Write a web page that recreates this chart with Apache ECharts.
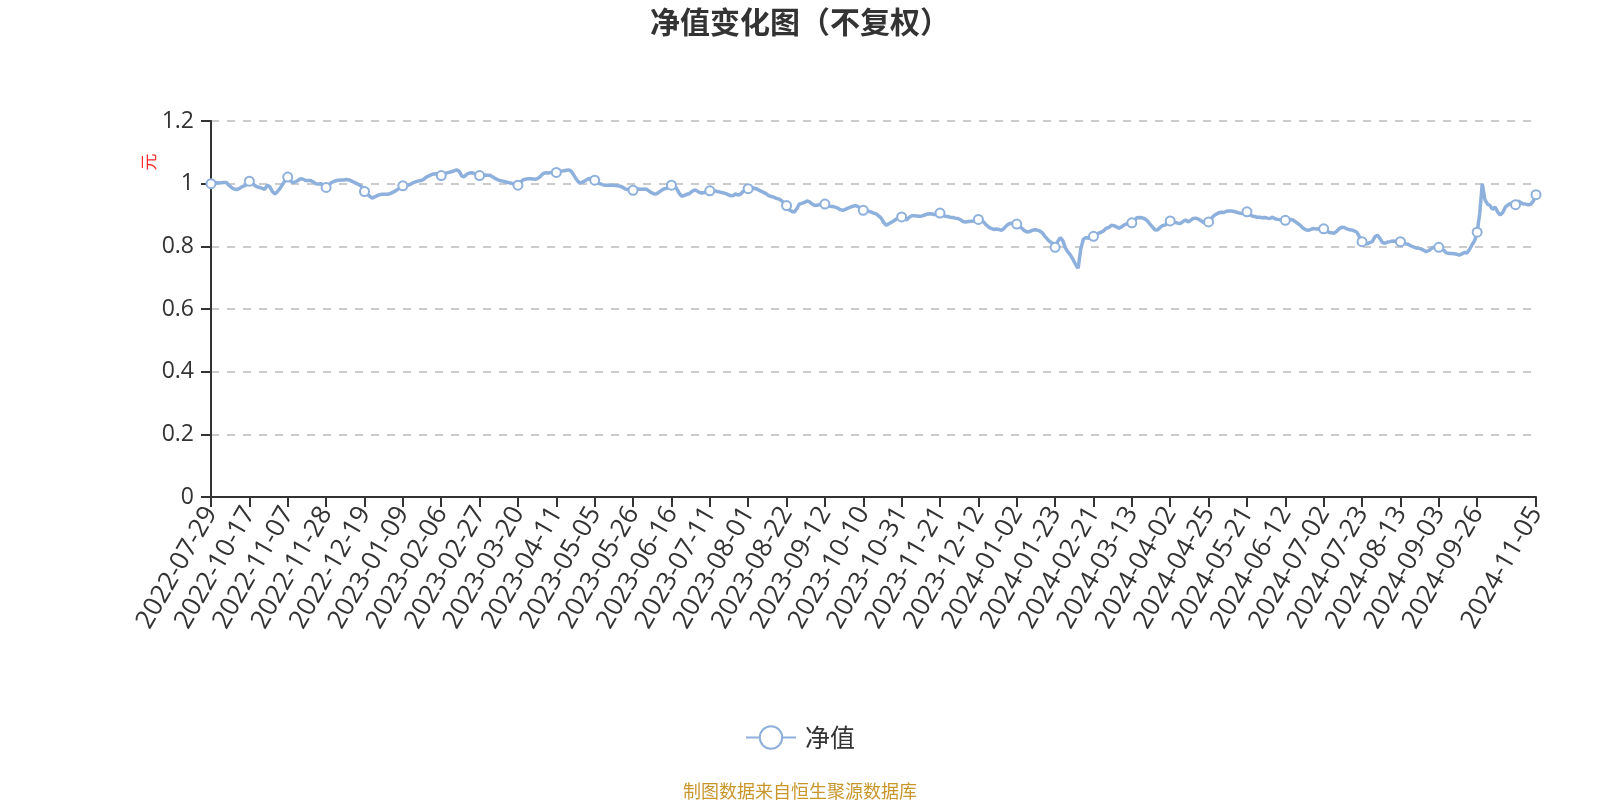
<!DOCTYPE html>
<html>
<head>
<meta charset="utf-8">
<script src="https://cdn.jsdelivr.net/npm/echarts@6/dist/echarts.min.js"></script>
<style>
html,body{margin:0;padding:0;background:#ffffff;}
#chart{width:1600px;height:800px;}
</style>
</head>
<body>
<div id="chart"></div>
<script>
// ---------- texts ----------
const chartTitle = '净值变化图（不复权）';
const seriesName = '净值';
const yAxisName = '元';
const sourceNote = '制图数据来自恒生聚源数据库';

// ---------- y axis ticks ----------
const yTickValues = [0, 0.2, 0.4, 0.6, 0.8, 1, 1.2];

// ---------- NAV dates (month -> days with a published NAV) ----------
const navDays = [
  ['2022-07', '29'],
  ['2022-09', '20 21 22 23 26 27 28 29 30'],
  ['2022-10', '10 11 12 13 14 17 18 19 20 21 24 25 26 27 28 31'],
  ['2022-11', '1 2 3 4 7 8 9 10 11 14 15 16 17 18 21 22 23 24 25 28 29 30'],
  ['2022-12', '1 2 5 6 7 8 9 12 13 14 15 16 19 20 21 22 23 26 27 28 29 30 31'],
  ['2023-01', '3 4 5 6 9 10 11 12 13 16 17 18 19 20 30 31'],
  ['2023-02', '1 2 3 6 7 8 9 10 13 14 15 16 17 20 21 22 23 24 27 28'],
  ['2023-03', '1 2 3 6 7 8 9 10 13 14 15 16 17 20 21 22 23 24 27 28 29 30 31'],
  ['2023-04', '3 4 6 7 10 11 12 13 14 17 18 19 20 21 24 25 26 27 28'],
  ['2023-05', '4 5 8 9 10 11 12 15 16 17 18 19 22 23 24 25 26 29 30 31'],
  ['2023-06', '1 2 5 6 7 8 9 12 13 14 15 16 19 20 21 26 27 28 29 30'],
  ['2023-07', '3 4 5 6 7 10 11 12 13 14 17 18 19 20 21 24 25 26 27 28 31'],
  ['2023-08', '1 2 3 4 7 8 9 10 11 14 15 16 17 18 21 22 23 24 25 28 29 30 31'],
  ['2023-09', '1 4 5 6 7 8 11 12 13 14 15 18 19 20 21 22 25 26 27 28 30'],
  ['2023-10', '9 10 11 12 13 16 17 18 19 20 23 24 25 26 27 30 31'],
  ['2023-11', '1 2 3 6 7 8 9 10 13 14 15 16 17 20 21 22 23 24 27 28 29 30'],
  ['2023-12', '1 4 5 6 7 8 11 12 13 14 15 18 19 20 21 22 25 26 27 28 29 31'],
  ['2024-01', '2 3 4 5 8 9 10 11 12 15 16 17 18 19 22 23 24 25 26 29 30 31'],
  ['2024-02', '1 2 5 6 7 8 19 20 21 22 23 26 27 28 29'],
  ['2024-03', '1 4 5 6 7 8 11 12 13 14 15 18 19 20 21 22 25 26 27 28 29 31'],
  ['2024-04', '1 2 3 8 9 10 11 12 15 16 17 18 19 22 23 24 25 26 29 30'],
  ['2024-05', '6 7 8 9 10 13 14 15 16 17 20 21 22 23 24 27 28 29 30 31'],
  ['2024-06', '3 4 5 6 7 11 12 13 14 17 18 19 20 21 24 25 26 27 28 30'],
  ['2024-07', '1 2 3 4 5 8 9 10 11 12 15 16 17 18 19 22 23 24 25 26 29 30 31'],
  ['2024-08', '1 2 5 6 7 8 9 12 13 14 15 16 19 20 21 22 23 26 27 28 29 30'],
  ['2024-09', '2 3 4 5 6 9 10 11 12 13 18 19 20 23 24 25 26 27 30'],
  ['2024-10', '8 9 10 11 14 15 16 17 18 21 22 23 24 25 28 29 30 31'],
  ['2024-11', '1 4 5']
];

// ---------- NAV values (元), one per date above ----------
const navValues = [
  1.000,1.002,1.003,1.002,1.003,1.004,1.004,0.995,0.988,0.983,0.981,0.984,0.990,0.993,0.997,1.008,
  1.004,0.995,0.990,0.988,0.985,0.982,0.995,0.990,0.975,0.967,0.975,0.985,0.998,1.010,1.021,
  1.010,1.003,1.006,1.010,1.016,1.014,1.010,1.010,1.010,1.005,1.000,0.999,1.000,0.995,0.988,
  0.995,1.003,1.007,1.010,1.011,1.012,1.012,1.013,1.012,1.008,1.004,1.000,0.996,0.990,0.975,
  0.968,0.960,0.954,0.958,0.962,0.965,0.966,0.966,0.966,0.968,0.972,0.976,0.982,0.988,0.993,
  0.993,0.995,0.998,1.003,1.006,1.008,1.010,1.013,1.020,1.024,1.028,1.031,1.032,1.028,1.026,
  1.030,1.034,1.036,1.038,1.041,1.044,1.040,1.025,1.022,1.030,1.034,1.035,1.032,1.028,1.026,
  1.027,1.028,1.027,1.027,1.022,1.017,1.013,1.010,1.008,1.006,1.004,1.002,1.000,0.998,0.995,
  1.005,1.012,1.014,1.016,1.016,1.015,1.014,1.018,1.025,1.033,1.035,1.034,1.036,1.035,1.036,
  1.038,1.040,1.041,1.043,1.044,1.038,1.025,1.012,1.003,1.004,1.008,1.013,1.017,1.014,1.011,
  1.005,1.000,0.997,0.995,0.995,0.996,0.995,0.994,0.993,0.992,0.988,0.983,0.981,0.980,0.979,
  0.982,0.983,0.982,0.982,0.983,0.978,0.972,0.968,0.967,0.972,0.978,0.983,0.985,0.988,0.995,
  0.995,0.985,0.970,0.960,0.962,0.966,0.968,0.975,0.980,0.977,0.972,0.970,0.972,0.975,0.977,
  0.978,0.977,0.975,0.973,0.971,0.969,0.966,0.962,0.961,0.967,0.964,0.966,0.975,0.981,0.984,
  0.985,0.986,0.984,0.980,0.976,0.972,0.968,0.962,0.959,0.957,0.953,0.951,0.946,0.938,0.930,
  0.917,0.912,0.909,0.920,0.935,0.937,0.940,0.945,0.942,0.935,0.930,0.931,0.934,0.936,0.935,
  0.930,0.928,0.927,0.925,0.922,0.917,0.915,0.918,0.922,0.925,0.928,0.930,0.927,0.920,0.915,
  0.913,0.912,0.910,0.906,0.904,0.897,0.890,0.876,0.867,0.872,0.877,0.882,0.887,0.892,0.894,
  0.887,0.885,0.893,0.898,0.898,0.897,0.896,0.897,0.900,0.903,0.904,0.903,0.901,0.904,0.906,
  0.900,0.896,0.895,0.893,0.892,0.890,0.889,0.885,0.879,0.878,0.879,0.880,0.881,0.884,0.886,
  0.884,0.878,0.869,0.862,0.857,0.854,0.855,0.854,0.851,0.857,0.866,0.872,0.874,0.873,0.871,
  0.866,0.858,0.850,0.846,0.847,0.851,0.853,0.852,0.849,0.843,0.832,0.823,0.815,0.810,0.797,
  0.815,0.828,0.818,0.795,0.782,0.772,0.758,0.742,0.730,0.790,0.822,0.828,0.826,0.830,0.832,
  0.838,0.842,0.845,0.850,0.858,0.860,0.867,0.866,0.862,0.858,0.862,0.868,0.872,0.874,0.875,
  0.883,0.891,0.892,0.891,0.888,0.882,0.872,0.862,0.853,0.852,0.860,0.866,0.868,0.872,0.881,
  0.877,0.876,0.874,0.873,0.879,0.884,0.878,0.883,0.889,0.890,0.887,0.882,0.876,0.875,0.878,
  0.888,0.897,0.903,0.907,0.909,0.908,0.912,0.913,0.913,0.911,0.909,0.906,0.905,0.907,0.910,
  0.902,0.897,0.895,0.893,0.893,0.891,0.892,0.890,0.889,0.893,0.888,0.886,0.885,0.884,0.883,
  0.884,0.886,0.884,0.878,0.872,0.866,0.858,0.853,0.851,0.854,0.857,0.855,0.856,0.855,0.856,
  0.850,0.845,0.843,0.842,0.847,0.856,0.861,0.860,0.856,0.853,0.852,0.849,0.845,0.830,0.815,
  0.810,0.808,0.812,0.815,0.830,0.836,0.825,0.812,0.810,0.814,0.815,0.817,0.816,0.814,0.815,
  0.812,0.808,0.807,0.802,0.798,0.795,0.794,0.792,0.788,0.783,0.786,0.792,0.797,0.797,0.797,
  0.793,0.787,0.779,0.777,0.777,0.776,0.775,0.772,0.776,0.780,0.779,0.790,0.805,0.818,0.845,
  0.905,1.000,0.950,0.935,0.930,0.918,0.925,0.910,0.900,0.908,0.925,0.932,0.937,0.935,0.933,
  0.945,0.940,0.935,0.935,0.932,0.935,0.945,0.965
];

// build category list from the date table
const dates = [];
navDays.forEach(function (m) {
  m[1].split(' ').forEach(function (d) {
    dates.push(m[0] + '-' + (d.length < 2 ? '0' + d : d));
  });
});

const lineColor = '#8eb0dc';
const textColor = '#333333';
const numFont = '"Open Sans", "Noto Sans CJK SC", sans-serif';
const cjkFont = '"Noto Sans CJK SC", sans-serif';

const chart = echarts.init(document.getElementById('chart'), null, { renderer: 'canvas' });
chart.setOption({
  animation: false,
  backgroundColor: '#ffffff',
  title: [
    {
      text: chartTitle,
      left: 'center',
      top: 2,
      textStyle: { fontSize: 30, fontWeight: 'bold', color: textColor, fontFamily: cjkFont }
    },
    {
      text: sourceNote,
      left: 'center',
      top: 777,
      textStyle: { fontSize: 18, fontWeight: 'normal', color: '#C9962C', fontFamily: cjkFont }
    }
  ],
  legend: {
    data: [seriesName],
    left: 'center',
    top: 720,
    itemWidth: 50,
    itemHeight: 28,
    itemGap: 10,
    textStyle: { fontSize: 25, color: textColor, fontFamily: cjkFont, padding: [0, 0, 0, 4] }
  },
  grid: { left: 211, right: 64, top: 121, bottom: 303, containLabel: false },
  graphic: [
    {
      type: 'text',
      x: 149,
      y: 162,
      rotation: Math.PI / 2,
      silent: true,
      style: {
        text: yAxisName,
        fill: '#ff2a2a',
        fontSize: 17,
        fontFamily: cjkFont,
        align: 'center',
        verticalAlign: 'middle'
      }
    }
  ],
  xAxis: {
    type: 'category',
    data: dates,
    boundaryGap: false,
    axisLine: { show: true, lineStyle: { color: textColor, width: 2 } },
    axisTick: { show: true, length: 10, lineStyle: { color: textColor, width: 2 } },
    axisLabel: {
      interval: 14,
      showMaxLabel: true,
      rotate: 60,
      margin: 12,
      fontSize: 26,
      color: textColor,
      fontFamily: numFont
    },
    splitLine: { show: false }
  },
  yAxis: {
    type: 'value',
    min: yTickValues[0],
    max: yTickValues[yTickValues.length - 1],
    interval: yTickValues[1] - yTickValues[0],
    axisLine: { show: true, lineStyle: { color: textColor, width: 2 } },
    axisTick: { show: true, length: 10, lineStyle: { color: textColor, width: 2 } },
    axisLabel: { fontSize: 23, color: textColor, margin: 17, fontFamily: numFont },
    splitLine: { show: true, lineStyle: { color: '#cccccc', width: 2, type: [8, 8] } }
  },
  series: [
    {
      name: seriesName,
      type: 'line',
      data: navValues,
      symbol: 'emptyCircle',
      symbolSize: 9,
      lineStyle: { color: lineColor, width: 3.5 },
      itemStyle: { color: lineColor, borderWidth: 1.5 }
    }
  ]
});
</script>
</body>
</html>
